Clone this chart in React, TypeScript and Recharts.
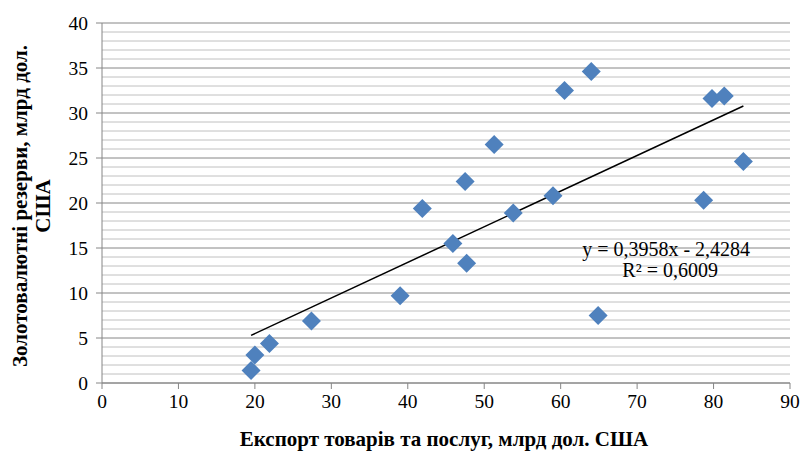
import React from "react";
import {
  CartesianGrid,
  Label,
  ReferenceDot,
  ReferenceLine,
  Scatter,
  ScatterChart,
  XAxis,
  YAxis,
} from "recharts";

// Export of goods & services vs. gold/FX reserves, bn USD
const exportVals = [19.5, 20.0, 21.9, 27.4, 39.0, 41.9, 45.9, 47.5, 47.7, 51.3, 53.8, 59.0, 60.5, 64.0, 64.9, 78.7, 79.8, 81.4, 83.9];
const reserveVals = [1.4, 3.1, 4.4, 6.9, 9.7, 19.4, 15.5, 22.4, 13.3, 26.5, 18.9, 20.8, 32.5, 34.6, 7.5, 20.3, 31.6, 31.9, 24.6];

const xTicks = [0, 10, 20, 30, 40, 50, 60, 70, 80, 90];
const yTicks = [0, 5, 10, 15, 20, 25, 30, 35, 40];
const yMinor = [1, 2, 3, 4, 6, 7, 8, 9, 11, 12, 13, 14, 16, 17, 18, 19, 21, 22, 23, 24, 26, 27, 28, 29, 31, 32, 33, 34, 36, 37, 38, 39];

// Excel linear trendline
const trendSlope = 0.3958;
const trendIntercept = -2.4284;
const trendText = ["y = 0,3958x - 2,4284", "R² = 0,6009"];

const xTitle = "Експорт товарів та послуг, млрд дол. США";
const yTitle = ["Золотовалютні резерви, млрд дол.", "США"];

const points = exportVals.map((x, i) => ({ x, y: reserveVals[i] }));
const xMin = Math.min(...exportVals);
const xMax = Math.max(...exportVals);
const trend = [
  { x: xMin, y: trendSlope * xMin + trendIntercept },
  { x: xMax, y: trendSlope * xMax + trendIntercept },
];

const FONT = "Liberation Serif, DejaVu Serif, serif";
const AXIS = "#868686";

const Diamond = (props: any) => {
  const { cx, cy } = props;
  const r = 9.5;
  return (
    <polygon
      points={`${cx},${cy - r} ${cx + r},${cy} ${cx},${cy + r} ${cx - r},${cy}`}
      fill="#4F81BD"
    />
  );
};

const titleStyle = { fontFamily: FONT, fontWeight: "bold" as const, fontSize: 21, fill: "#000" };

const YTitle = (props: any) => {
  const vb = props.viewBox;
  const cy = vb.y + vb.height / 2 + 3;
  return (
    <g transform={`translate(0, ${cy}) rotate(-90)`}>
      <text x={0} y={27} textAnchor="middle" style={titleStyle}>
        {yTitle[0]}
      </text>
      <text x={0} y={50} textAnchor="middle" style={titleStyle}>
        {yTitle[1]}
      </text>
    </g>
  );
};

const XTitle = (props: any) => {
  const vb = props.viewBox;
  return (
    <text x={vb.x + vb.width / 2 - 2} y={vb.y + 63} textAnchor="middle" style={titleStyle}>
      {xTitle}
    </text>
  );
};

const TrendLabel = (props: any) => {
  const vb = props.viewBox;
  const cx = vb.x + (vb.width || 0) / 2;
  const cy = vb.y + (vb.height || 0) / 2;
  const st = { fontFamily: FONT, fontSize: 20, fill: "#000" };
  return (
    <g>
      <text x={cx} y={cy - 9} textAnchor="middle" style={st}>
        {trendText[0]}
      </text>
      <text x={cx + 4} y={cy + 12} textAnchor="middle" style={st}>
        {trendText[1]}
      </text>
    </g>
  );
};

export default function App() {
  return (
    <div style={{ position: "absolute", left: 0, top: 0, background: "#fff", fontFamily: FONT }}>
      <ScatterChart width={801} height={451} margin={{ top: 23, right: 11, bottom: 38, left: 0 }}>
        <CartesianGrid vertical={false} stroke={AXIS} horizontalValues={yTicks} />
        {yMinor.map((v) => (
          <ReferenceLine key={v} y={v} stroke="#c0c0c0" strokeWidth={1} />
        ))}
        <XAxis
          type="number"
          dataKey="x"
          domain={[0, 90]}
          ticks={xTicks}
          interval={0}
          stroke={AXIS}
          tickSize={6}
          tickMargin={5}
          height={30}
          tick={{ fontFamily: FONT, fontSize: 19.5, fill: "#000" }}
        >
          <Label content={<XTitle />} />
        </XAxis>
        <YAxis
          type="number"
          dataKey="y"
          domain={[0, 40]}
          ticks={yTicks}
          interval={0}
          width={102}
          stroke={AXIS}
          tickSize={6}
          tickMargin={8}
          tick={{ fontFamily: FONT, fontSize: 19.5, fill: "#000" }}
        >
          <Label content={<YTitle />} />
        </YAxis>
        <ReferenceLine segment={trend} stroke="#000" strokeWidth={1.5} />
        <Scatter data={points} shape={<Diamond />} isAnimationActive={false} />
        <ReferenceDot x={73.8} y={13.1} r={0} stroke="none" fill="none">
          <Label content={<TrendLabel />} />
        </ReferenceDot>
      </ScatterChart>
    </div>
  );
}
